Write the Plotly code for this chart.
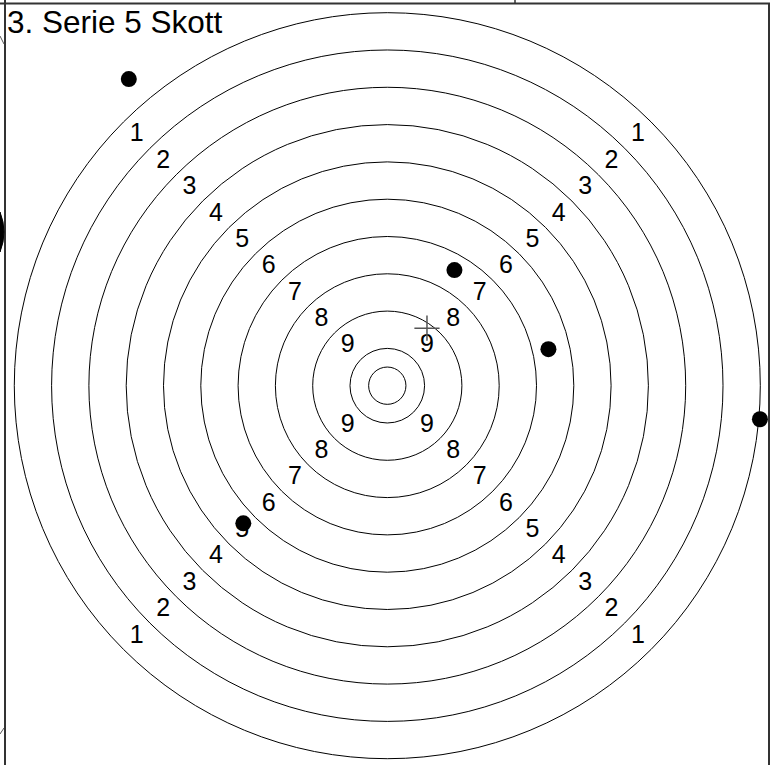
import plotly.graph_objects as go

# ---- data ----
title_text = "3. Serie 5 Skott"
ring_numbers = [1, 2, 3, 4, 5, 6, 7, 8, 9]
ring_radii = [10, 9, 8, 7, 6, 5, 4, 3, 2, 1, 0.5]   # ring-width units
shot_x = [-6.93, 1.80, 4.32, 9.99, -3.86]
shot_y = [8.22, 3.10, 0.98, -0.90, -3.69]

W, H = 770, 765
x_range = [-10.383, 10.260]
y_range = [-10.169, 10.340]

FONT = "Arial, Liberation Sans, sans-serif"

fig = go.Figure()

# ring circles
shapes = []
for r in ring_radii:
    shapes.append(dict(type="circle", xref="x", yref="y", x0=-r, y0=-r, x1=r, y1=r,
                       line=dict(color="black", width=1), layer="below"))

# frame lines (paper coords)
def px(xp):
    return xp / W
def py(yp):
    return 1 - yp / H

frame_col = "#333333"
shapes += [
    dict(type="line", xref="paper", yref="paper", x0=0, x1=1, y0=py(3.5), y1=py(3.5),
         line=dict(color=frame_col, width=2)),
    dict(type="line", xref="paper", yref="paper", x0=px(5), x1=px(5), y0=0, y1=1,
         line=dict(color=frame_col, width=2)),
    dict(type="line", xref="paper", yref="paper", x0=px(769), x1=px(769), y0=0, y1=py(3.5),
         line=dict(color=frame_col, width=2)),
    dict(type="line", xref="paper", yref="paper", x0=px(515), x1=px(515), y0=py(0), y1=py(3.5),
         line=dict(color=frame_col, width=1.5)),
    # fragments of neighbouring charts
    dict(type="path", xref="paper", yref="paper",
         path=f"M {px(0)},{py(212)} Q {px(8)},{py(232)} {px(0)},{py(252)} Z",
         fillcolor="black", line=dict(color="black", width=1)),
    dict(type="line", xref="paper", yref="paper", x0=px(0), x1=px(4), y0=py(36), y1=py(44),
         line=dict(color="#555", width=1)),
    dict(type="line", xref="paper", yref="paper", x0=px(0), x1=px(4), y0=py(734), y1=py(728),
         line=dict(color="#555", width=1)),
]

# ring number labels on the four diagonals
lx, ly, lt = [], [], []
d = 0.70710678
for n in ring_numbers:
    rm = 10.5 - n
    for sx, sy in [(-1, 1), (1, 1), (-1, -1), (1, -1)]:
        lx.append(sx * rm * d)
        ly.append(sy * rm * d)
        lt.append(str(n))
fig.add_trace(go.Scatter(x=lx, y=ly, text=lt, mode="text", hoverinfo="skip",
                         textfont=dict(family=FONT, size=25, color="black"),
                         textposition="middle center"))

# shots
fig.add_trace(go.Scatter(x=shot_x, y=shot_y, mode="markers", hoverinfo="skip",
                         marker=dict(size=16, color="black", line=dict(width=0))))

# mean point of impact
mx = sum(shot_x) / len(shot_x)
my = sum(shot_y) / len(shot_y)
fig.add_trace(go.Scatter(x=[mx], y=[my], mode="markers", hoverinfo="skip",
                         marker=dict(symbol="cross-thin", size=18,
                                     line=dict(width=1.5, color="#555555"))))

fig.update_layout(
    width=W, height=H,
    margin=dict(l=0, r=0, t=0, b=0),
    paper_bgcolor="white", plot_bgcolor="white",
    showlegend=False,
    shapes=shapes,
    xaxis=dict(range=x_range, visible=False, showgrid=False, zeroline=False, fixedrange=True),
    yaxis=dict(range=y_range, visible=False, showgrid=False, zeroline=False, fixedrange=True),
    annotations=[dict(text=title_text, xref="paper", yref="paper", x=px(5), y=py(22),
                      xanchor="left", yanchor="middle", showarrow=False,
                      font=dict(family=FONT, size=31.5, color="black"))],
)

fig.write_html("out.html", config={"displayModeBar": False},
               post_script="document.body.style.margin='0';")
